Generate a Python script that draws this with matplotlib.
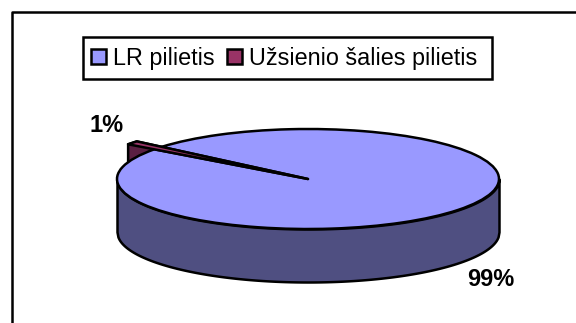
from matplotlib import pyplot as plt
from matplotlib.lines import Line2D
from matplotlib.patches import Polygon, Rectangle
import numpy as np

plt.rcParams['font.family'] = ['Liberation Sans', 'DejaVu Sans']

#chart data
categories = ['LR pilietis', 'Užsienio šalies pilietis']
shares = [99, 1]
share_labels = ['99%', '1%']

#colors of the top faces and the darker side walls
top_colors = ['#9999ff', '#993366']
side_colors = ['#4f4f81', '#5a1f42']

W, H = 576, 323
CX, CY, RX, RY = 308, 179, 191, 50  #pie ellipse in pixels
DEPTH = 53 / RY  #wall height in pie units
LW = 1.8

fig = plt.figure(figsize=(W / 100, H / 100), dpi=100, facecolor='white')
ax = fig.add_axes([0, 0, 1, 1])

wedges, _ = ax.pie(shares, colors=top_colors, startangle=143.6, radius=1,
                   wedgeprops={'edgecolor': 'black', 'linewidth': LW, 'joinstyle': 'round'})
ax.set_aspect('auto')
ax.set_xlim((0 - CX) / RX, (W - CX) / RX)
ax.set_ylim((CY - H) / RY, CY / RY)
ax.axis('off')

big, small = wedges
big.set_zorder(4)
small.set_zorder(5)
small.set_radius(1.17)

#front wall of the big slice
x = np.linspace(-1, 1, 400)
lower = -np.sqrt(1 - x ** 2)
ax.fill_between(x, lower - DEPTH, lower, facecolor=side_colors[0], edgecolor='black',
                linewidth=LW, zorder=3)

#wall of the small slice, mostly hidden behind the big one
t1, t2 = np.radians([small.theta1, small.theta2])
p1 = (small.r * np.cos(t1), small.r * np.sin(t1))
p2 = (small.r * np.cos(t2), small.r * np.sin(t2))
ax.add_patch(Polygon([(0, 0), p1, p2, (p2[0], p2[1] - DEPTH), (0, -DEPTH)], closed=True,
                     facecolor=side_colors[1], edgecolor='black', linewidth=LW, zorder=2))

#percent labels
fig.text(491 / W, 1 - 279 / H, share_labels[0], fontsize=17, fontweight='bold',
         ha='center', va='center')
fig.text(107 / W, 1 - 125 / H, share_labels[1], fontsize=17, fontweight='bold',
         ha='center', va='center')

#legend box is drawn apart, the original has more room on its right side
fig.add_artist(Rectangle((83 / W, 1 - 79 / H), 409 / W, 42 / H, transform=fig.transFigure,
                         facecolor='white', edgecolor='black', linewidth=LW))
leg = fig.legend(wedges, categories, loc='center left', bbox_to_anchor=(83 / W, 1 - 58 / H),
                 ncol=2, fontsize=16.8, frameon=False,
                 handlelength=0.64, handleheight=0.64,
                 handletextpad=0.28, columnspacing=0.55, borderpad=0.35, borderaxespad=0)

#outer chart frame, runs off the right and bottom edges
fig.add_artist(Line2D([12 / W, 12 / W, 1], [0, 1 - 12 / H, 1 - 12 / H], color='black', linewidth=LW))

fig.savefig('out.png', dpi=100)
